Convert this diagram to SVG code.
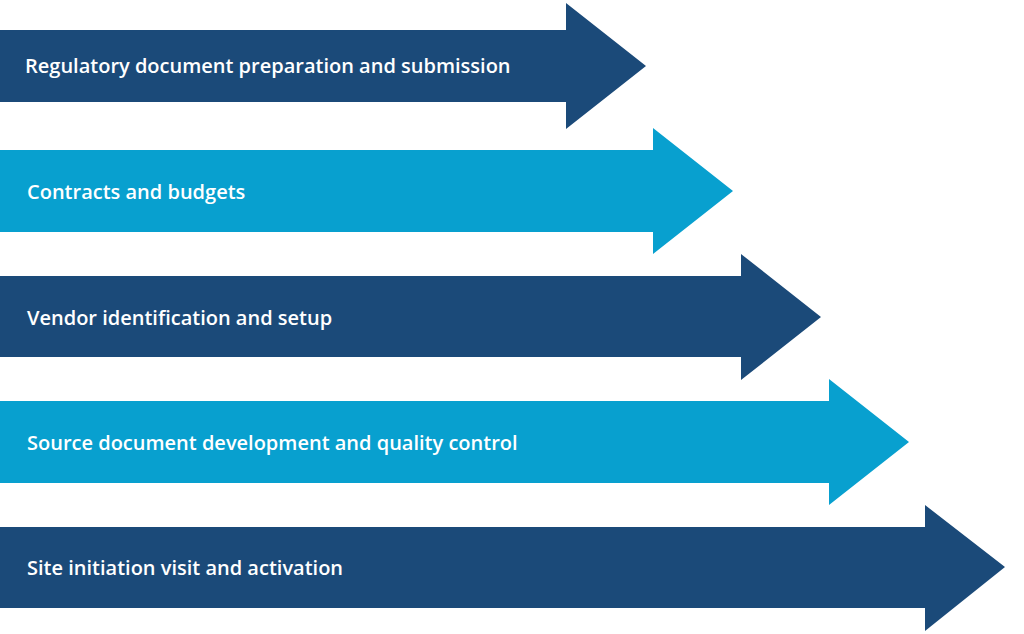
<svg xmlns="http://www.w3.org/2000/svg" width="1024" height="634" viewBox="0 0 1024 634">
<style>
.d{fill:#1b4a79}.l{fill:#08a0cf}
text{fill:#fff;font-family:"Open Sans","Noto Sans",sans-serif;font-weight:600;font-size:20px;dominant-baseline:central}
</style>
<rect width="1024" height="634" fill="#fff"/>
<g id="n1"><polygon class="d" points="0,30 566,30 566,3 646,66 566,129 566,102 0,102"/><text x="25" y="65">Regulatory document preparation and submission</text></g>
<g id="n2"><polygon class="l" points="0,150 653,150 653,128 733,191 653,254 653,232 0,232"/><text x="27" y="191">Contracts and budgets</text></g>
<g id="n3"><polygon class="d" points="0,276 741,276 741,254 821,317 741,380 741,357 0,357"/><text x="27" y="317">Vendor identification and setup</text></g>
<g id="n4"><polygon class="l" points="0,401 829,401 829,379 909,442 829,505 829,483 0,483"/><text x="27" y="442">Source document development and quality control</text></g>
<g id="n5"><polygon class="d" points="0,527 925,527 925,505 1005,567 925,631 925,608 0,608"/><text x="27" y="567">Site initiation visit and activation</text></g>
<g id="connectors"/>
</svg>
